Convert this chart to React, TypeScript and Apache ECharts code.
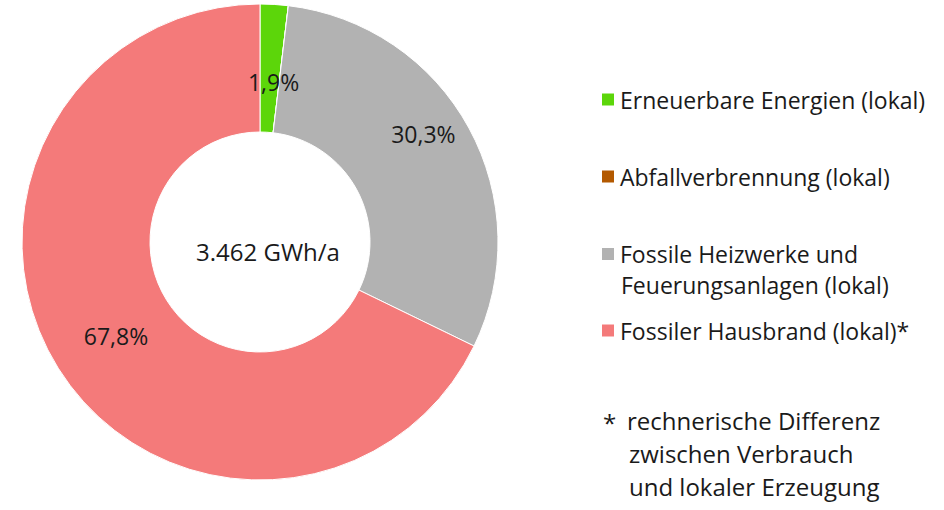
import React, { useEffect, useRef } from "react";
import * as echarts from "echarts";

const categories = [
  "Erneuerbare Energien (lokal)",
  "Abfallverbrennung (lokal)",
  "Fossile Heizwerke und\nFeuerungsanlagen (lokal)",
  "Fossiler Hausbrand (lokal)*",
];
const shares = [1.9, 0, 30.3, 67.8];
const colors = ["#5CD60A", "#B35900", "#B2B2B2", "#F47A7A"];
const centerLabel = "3.462 GWh/a";
const footnoteMarker = "*";
const footnoteLines = ["rechnerische Differenz", "zwischen Verbrauch", "und lokaler Erzeugung"];

const FONT = "Open Sans";
const labelShift: Array<[number, number]> = [
  [3, 17],
  [0, 0],
  [8, -23],
  [6, 0],
];

export default function App() {
  const ref = useRef<HTMLDivElement>(null);
  useEffect(() => {
    if (!ref.current) return;
    const chart = echarts.init(ref.current, undefined, { renderer: "svg" });
    const iconCenters = [99.5, 176.5, 254, 330.5];
    const legendFont = 23;
    const legends = categories.map((name, i) => ({
      data: [name],
      orient: "vertical",
      left: 600,
      top: iconCenters[i] - 16,
      icon: "rect",
      itemWidth: 14,
      itemHeight: 14,
      itemGap: 0,
      padding: 0,
      selectedMode: false,
      formatter: (n: string) => n.split("\n")[0],
      textStyle: {
        fontFamily: FONT,
        fontSize: legendFont,
        color: "#1a1a1a",
        lineHeight: 32,
      },
    }));
    const secondLines = categories
      .map((name, i) => ({ parts: name.split("\n"), i }))
      .filter((o) => o.parts.length > 1)
      .map((o) => ({
        type: "text",
        x: 621,
        y: iconCenters[o.i] + 31,
        style: {
          text: o.parts.slice(1).join("\n"),
          fontFamily: FONT,
          fontSize: legendFont,
          fill: "#1a1a1a",
          textAlign: "left",
          textVerticalAlign: "middle",
        },
      }));
    chart.setOption({
      animation: false,
      legend: legends,
      series: [
        {
          type: "pie",
          center: [260, 242],
          radius: [110, 238],
          startAngle: 90,
          clockwise: true,
          avoidLabelOverlap: false,
          itemStyle: { borderColor: "#ffffff", borderWidth: 1 },
          label: {
            show: true,
            position: "inside",
            fontFamily: FONT,
            fontSize: 23,
            color: "#1a1a1a",
            formatter: (p: any) => p.value.toFixed(1).replace(".", ",") + "%",
          },
          labelLine: { show: false },
          labelLayout: (p: any) => {
            const s = labelShift[p.dataIndex] || [0, 0];
            return { dx: s[0], dy: s[1] };
          },
          emphasis: { disabled: true },
          data: categories.map((name, i) => ({
            name,
            value: shares[i],
            itemStyle: { color: colors[i] },
            label: shares[i] === 0 ? { show: false } : undefined,
          })),
        },
      ],
      graphic: [
        {
          type: "text",
          x: 268,
          y: 251,
          style: {
            text: centerLabel,
            fontFamily: FONT,
            fontSize: 24,
            fill: "#1a1a1a",
            textAlign: "center",
            textVerticalAlign: "middle",
          },
        },
        ...secondLines,
        {
          type: "text",
          x: 603,
          y: 422,
          style: {
            text: footnoteMarker,
            fontFamily: FONT,
            fontSize: 24,
            fill: "#1a1a1a",
            textAlign: "left",
            textVerticalAlign: "middle",
          },
        },
        ...footnoteLines.map((t, i) => ({
          type: "text",
          x: i === 0 ? 627 : 629,
          y: 420 + i * 33,
          style: {
            text: t,
            fontFamily: FONT,
            fontSize: 24,
            fill: "#1a1a1a",
            textAlign: "left",
            textVerticalAlign: "middle",
          },
        })),
      ],
    });
    return () => chart.dispose();
  }, []);
  return (
    <div
      ref={ref}
      style={{ position: "absolute", left: 0, top: 0, width: 944, height: 510, background: "#fff" }}
    />
  );
}
